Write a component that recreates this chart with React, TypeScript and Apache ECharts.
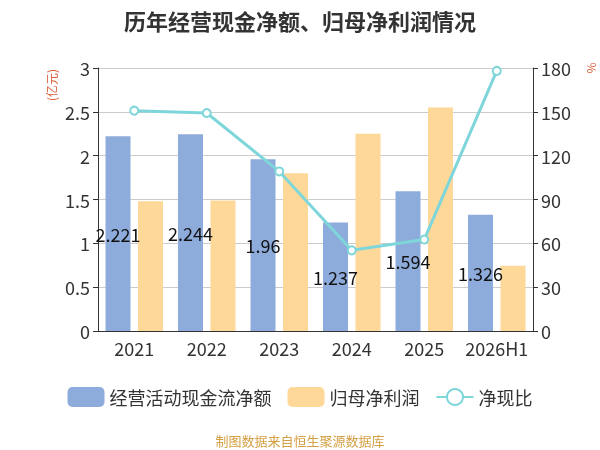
import React, { useEffect, useRef } from "react";
import * as echarts from "echarts";

const categories = ["2021", "2022", "2023", "2024", "2025", "2026H1"];
const cashFlow = [2.221, 2.244, 1.96, 1.237, 1.594, 1.326];
const netProfit = [1.48, 1.49, 1.8, 2.25, 2.55, 0.745];
const ratio = [150.8, 149.2, 109.2, 55.2, 62.6, 178.0];

const FONT = "'Noto Sans CJK SC', 'Noto Sans', sans-serif";

export default function App() {
  const ref = useRef<HTMLDivElement>(null);
  useEffect(() => {
    if (!ref.current) return;
    const chart = echarts.init(ref.current, null, { renderer: "svg" });
    chart.setOption({
      animation: false,
      textStyle: { fontFamily: FONT },
      title: {
        text: "历年经营现金净额、归母净利润情况",
        left: "center",
        top: 4,
        textStyle: { fontSize: 22, fontWeight: "bold", color: "#333", fontFamily: FONT },
      },
      legend: {
        bottom: 38,
        left: "center",
        itemWidth: 37,
        itemHeight: 20,
        itemGap: 16,
        textStyle: { fontSize: 18, color: "#333", fontFamily: FONT },
        data: [
          { name: "经营活动现金流净额", itemStyle: { borderRadius: 4 } },
          { name: "归母净利润", itemStyle: { borderRadius: 4 } },
          { name: "净现比" },
        ],
      },
      graphic: [
        {
          type: "text",
          x: 51,
          y: 85,
          rotation: Math.PI / 2,
          style: {
            text: "(亿元)",
            fontSize: 12,
            fill: "#d9603b",
            align: "center",
            verticalAlign: "middle",
            fontFamily: FONT,
          },
        },
        {
          type: "text",
          x: 590,
          y: 68,
          rotation: Math.PI / 2,
          style: {
            text: "%",
            fontSize: 12,
            fill: "#d9603b",
            align: "center",
            verticalAlign: "middle",
            fontFamily: FONT,
          },
        },
        {
          type: "text",
          left: "center",
          top: 434,
          style: {
            text: "制图数据来自恒生聚源数据库",
            fontSize: 13,
            fill: "#d4a045",
            fontFamily: FONT,
          },
        },
      ],
      grid: { left: 98, right: 67, top: 68, bottom: 119 },
      xAxis: {
        type: "category",
        data: categories,
        axisLine: { lineStyle: { color: "#333" } },
        axisTick: { length: 5, lineStyle: { color: "#333" } },
        axisLabel: { fontSize: 18, color: "#333", margin: 8, interval: 0, fontFamily: FONT },
      },
      yAxis: [
        {
          type: "value",
          min: 0,
          max: 3,
          interval: 0.5,
          axisLine: { show: true, lineStyle: { color: "#333" } },
          axisTick: { show: true, length: 5, lineStyle: { color: "#333" } },
          axisLabel: { fontSize: 18, color: "#333", margin: 8, fontFamily: FONT },
          splitLine: { lineStyle: { color: "#ccc" } },
        },
        {
          type: "value",
          min: 0,
          max: 180,
          interval: 30,
          axisLine: { show: true, lineStyle: { color: "#333" } },
          axisTick: { show: true, length: 5, lineStyle: { color: "#333" } },
          axisLabel: { fontSize: 18, color: "#333", margin: 8, fontFamily: FONT },
          splitLine: { show: false },
        },
      ],
      series: [
        {
          name: "经营活动现金流净额",
          type: "bar",
          data: cashFlow,
          barWidth: 25,
          barGap: "30%",
          itemStyle: { color: "#8eacdb" },
          label: {
            show: true,
            position: "inside",
            color: "#111",
            fontSize: 18,
            fontFamily: FONT,
          },
        },
        {
          name: "归母净利润",
          type: "bar",
          data: netProfit,
          barWidth: 25,
          barGap: "30%",
          itemStyle: { color: "#fed899" },
        },
        {
          name: "净现比",
          type: "line",
          yAxisIndex: 1,
          data: ratio,
          symbol: "emptyCircle",
          symbolSize: 8,
          lineStyle: { color: "#7fd6da", width: 3 },
          itemStyle: { color: "#7fd6da", borderWidth: 1.5 },
        },
      ],
    });
    return () => chart.dispose();
  }, []);
  return (
    <div
      ref={ref}
      style={{ position: "fixed", left: 0, top: 0, width: 600, height: 450 }}
    />
  );
}
